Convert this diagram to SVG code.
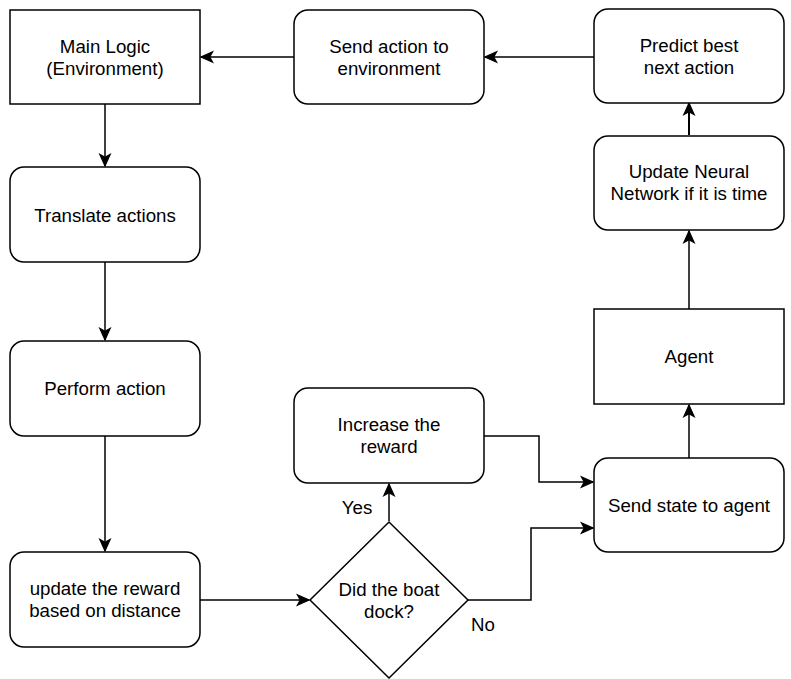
<svg xmlns="http://www.w3.org/2000/svg" width="791" height="679" viewBox="0 0 791 679">
<defs>
<style>
.n{fill:#fff;stroke:#000;stroke-width:1.5}
.t{font-family:"Liberation Sans",Arial,sans-serif;font-size:18.7px;fill:#000;text-anchor:middle}
.c{fill:none;stroke:#000;stroke-width:1.5}
</style>
<marker id="a" markerUnits="userSpaceOnUse" markerWidth="14" markerHeight="14" viewBox="0 0 12 12" refX="11" refY="6" orient="auto">
<path d="M1,1.5 L11,6 L1,10.5 L3.5,6 Z" fill="#000" stroke="#000" stroke-width="1"/>
</marker>
</defs>
<rect width="791" height="679" fill="#fff"/>
<g id="connectors">
<path class="c" d="M594,57 H485" marker-end="url(#a)"/>
<path class="c" d="M294,57 H201" marker-end="url(#a)"/>
<path class="c" d="M105,104 V166" marker-end="url(#a)"/>
<path class="c" d="M105,262 V340" marker-end="url(#a)"/>
<path class="c" d="M105,436 V551" marker-end="url(#a)"/>
<path class="c" d="M200,600 H309" marker-end="url(#a)"/>
<path class="c" d="M389,521 V484" marker-end="url(#a)"/>
<path class="c" d="M484,436 H539 V482 H593" marker-end="url(#a)"/>
<path class="c" d="M468,600 H531 V528 H593" marker-end="url(#a)"/>
<path class="c" d="M689,458 V405" marker-end="url(#a)"/>
<path class="c" d="M689,309 V231" marker-end="url(#a)"/>
<path class="c" style="stroke-width:2" d="M689,135 V103" marker-end="url(#a)"/>
</g>
<g id="main-logic">
<rect class="n" x="10" y="10" width="190" height="94"/>
<text class="t" x="105" y="53">Main Logic</text>
<text class="t" x="105" y="75">(Environment)</text>
</g>
<g id="send-action">
<rect class="n" x="294" y="10" width="190" height="94" rx="14"/>
<text class="t" x="389" y="53">Send action to</text>
<text class="t" x="389" y="75">environment</text>
</g>
<g id="predict">
<rect class="n" x="594" y="9" width="190" height="94" rx="14"/>
<text class="t" x="689" y="52">Predict best</text>
<text class="t" x="689" y="74">next action</text>
</g>
<g id="update-nn">
<rect class="n" x="594" y="136" width="190" height="94" rx="14"/>
<text class="t" x="689" y="178">Update Neural</text>
<text class="t" x="689" y="200">Network if it is time</text>
</g>
<g id="agent">
<rect class="n" x="594" y="309" width="190" height="95"/>
<text class="t" x="689" y="363">Agent</text>
</g>
<g id="send-state">
<rect class="n" x="594" y="458" width="190" height="94" rx="14"/>
<text class="t" x="689" y="512">Send state to agent</text>
</g>
<g id="translate">
<rect class="n" x="10" y="167" width="190" height="95" rx="14"/>
<text class="t" x="105" y="222">Translate actions</text>
</g>
<g id="perform">
<rect class="n" x="10" y="341" width="190" height="95" rx="14"/>
<text class="t" x="105" y="395">Perform action</text>
</g>
<g id="update-reward">
<rect class="n" x="10" y="552" width="190" height="95" rx="14"/>
<text class="t" x="105" y="595">update the reward</text>
<text class="t" x="105" y="617">based on distance</text>
</g>
<g id="increase-reward">
<rect class="n" x="294" y="388" width="190" height="95" rx="14"/>
<text class="t" x="389" y="431">Increase the</text>
<text class="t" x="389" y="453">reward</text>
</g>
<g id="decision">
<path class="n" d="M389,522 L468,600 L389,678 L310,600 Z"/>
<text class="t" x="389" y="596">Did the boat</text>
<text class="t" x="389" y="618">dock?</text>
</g>
<g id="labels">
<text class="t" x="357" y="514">Yes</text>
<text class="t" x="483" y="631">No</text>
</g>
</svg>
